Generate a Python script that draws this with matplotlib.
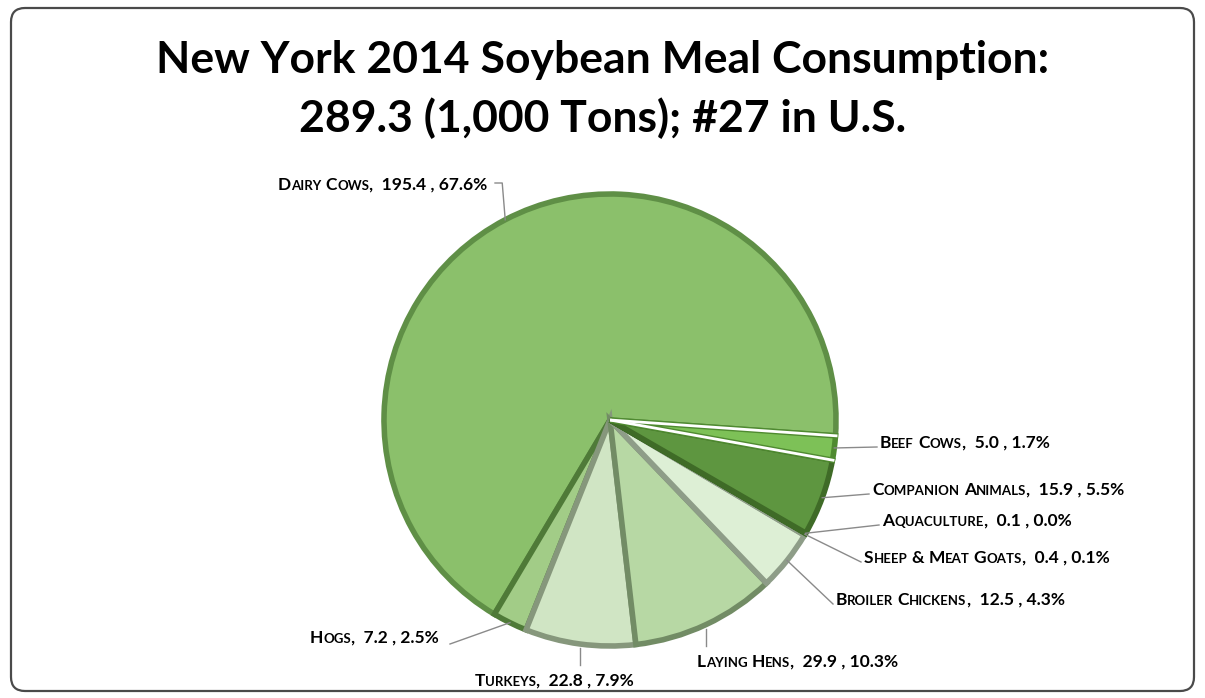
import numpy as np
import matplotlib.pyplot as plt
from matplotlib.patches import FancyBboxPatch
from matplotlib.offsetbox import TextArea, HPacker, AnnotationBbox

plt.rcParams['font.family'] = ['Lato', 'DejaVu Sans']

# soybean meal use, 1,000 tons
categories = ['Dairy Cows', 'Hogs', 'Turkeys', 'Laying Hens', 'Broiler Chickens',
              'Sheep & Meat Goats', 'Aquaculture', 'Companion Animals', 'Beef Cows']
tons = [195.4, 7.2, 22.8, 29.9, 12.5, 0.4, 0.1, 15.9, 5.0]
shares = [67.6, 2.5, 7.9, 10.3, 4.3, 0.1, 0.0, 5.5, 1.7]

faces = ['#8bc06b', '#a2cc87', '#d0e5c4', '#b7d8a4', '#ddefd5',
         '#c7dfba', '#4f8436', '#5e9640', '#7dc157']
edges = ['#5f8f46', '#4f7a38', '#86977c', '#728c65', '#8e9d88',
         '#8e9d88', '#3c6a26', '#3f6b27', '#4f8a30']
explode = [0, 0, 0, 0, 0, 0, 0, 6, 8]

# label anchor (left edge x, centre y) in pixels from top-left
label_pos = [(278, 185), (310, 638), (475, 681), (697, 662), (836, 600),
             (864, 558), (882, 521), (872, 490), (880, 443)]

W, H = 1205, 698
fig = plt.figure(figsize=(W / 100, H / 100), dpi=100)
ax = fig.add_axes([0, 0, 1, 1])

fig.patches.append(FancyBboxPatch((11, 7), W - 22, H - 15,
                                  boxstyle='round,pad=0,rounding_size=14',
                                  transform=None, fill=False,
                                  ec='#4a4a4a', lw=1.6))

fig.text(0.5, 1 - 60 / H, 'New York 2014 Soybean Meal Consumption:',
         ha='center', va='center', fontsize=32, fontweight='bold')
fig.text(0.5, 1 - 118 / H, '289.3 (1,000 Tons); #27 in U.S.',
         ha='center', va='center', fontsize=32, fontweight='bold')

cx, cy, r = 610, H - 420, 226
wedges, _ = ax.pie(tons, colors=faces, startangle=-4, counterclock=True,
                   center=(cx, cy), radius=r, explode=[e / r for e in explode],
                   wedgeprops=dict(linewidth=4), frame=True)
for w, ec in zip(wedges, edges):
    w.set_edgecolor(ec)
ax.set_xlim(0, W)
ax.set_ylim(0, H)
ax.axis('off')

# white seams on both sides of the pulled-out beef slice
beef = wedges[-1]
bx, by = beef.center
for th in (beef.theta1, beef.theta2):
    a = np.deg2rad(th)
    ax.plot([bx, bx + (r + 2) * np.cos(a)], [by, by + (r + 2) * np.sin(a)],
            color='white', lw=2, solid_capstyle='butt', zorder=3)


def small_caps(text, big=12.5, small=9.5):
    parts = []
    for i, word in enumerate(text.split(' ')):
        if i:
            parts.append(TextArea(' ', textprops=dict(fontsize=big, fontweight='bold')))
        first, rest = word[0], word[1:]
        parts.append(TextArea(first.upper(), textprops=dict(fontsize=big, fontweight='bold')))
        if rest:
            parts.append(TextArea(rest.upper(), textprops=dict(fontsize=small, fontweight='bold')))
    return parts


for w, name, t, s, (lx, ly) in zip(wedges, categories, tons, shares, label_pos):
    pieces = small_caps(name)
    pieces.append(TextArea(f',  {t:.1f} , {s:.1f}%',
                           textprops=dict(fontsize=12.5, fontweight='bold')))
    box = HPacker(children=pieces, align='baseline', pad=0, sep=0)
    ab = AnnotationBbox(box, (lx, H - ly), box_alignment=(0, 0.5),
                        frameon=False, pad=0)
    ax.add_artist(ab)

    # leader line from the wedge rim to the label
    mid = np.deg2rad((w.theta1 + w.theta2) / 2)
    wx, wy = w.center
    px, py = wx + r * np.cos(mid), wy + r * np.sin(mid)
    if name == 'Dairy Cows':
        ax.plot([px, px - 3, 495], [py, H - ly + 2, H - ly + 2], color='#8a8a8a', lw=1)
    elif name == 'Hogs':
        ax.plot([px, 450], [py, H - ly - 6], color='#8a8a8a', lw=1)
    elif name in ('Turkeys', 'Laying Hens'):
        ax.plot([px, px], [py - 4, H - ly + 16], color='#8a8a8a', lw=1)
    else:
        ax.plot([px, lx - 3], [py, H - ly - 4], color='#8a8a8a', lw=1)

fig.savefig('out.png', dpi=100)
